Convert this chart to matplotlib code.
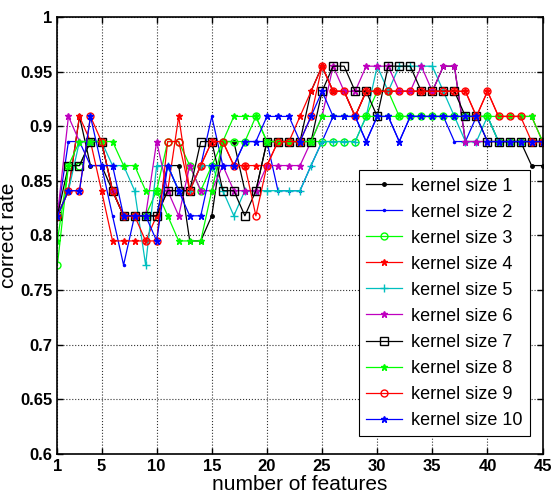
import matplotlib
matplotlib.use("Agg")
import matplotlib.pyplot as plt
import numpy as np

plt.rcParams['font.family'] = ['Liberation Sans', 'DejaVu Sans']

features = list(range(1, 46))

# correct rate per number of features, one list per kernel size
k1 = [0.818, 0.841, 0.909, 0.864, 0.864, 0.841, 0.818, 0.818, 0.818, 0.818, 0.864, 0.864, 0.795, 0.795, 0.818,
      0.886, 0.886, 0.841, 0.841, 0.886, 0.886, 0.886, 0.886, 0.932, 0.955, 0.932, 0.932, 0.909, 0.932, 0.932,
      0.932, 0.932, 0.932, 0.932, 0.932, 0.955, 0.955, 0.886, 0.886, 0.886, 0.886, 0.886, 0.886, 0.864, 0.864]
k2 = [0.818, 0.886, 0.886, 0.864, 0.864, 0.818, 0.773, 0.818, 0.818, 0.818, 0.864, 0.841, 0.841, 0.864, 0.909,
      0.864, 0.864, 0.886, 0.886, 0.886, 0.841, 0.841, 0.841, 0.864, 0.886, 0.909, 0.909, 0.909, 0.886, 0.909,
      0.909, 0.886, 0.909, 0.909, 0.909, 0.909, 0.886, 0.886, 0.909, 0.909, 0.886, 0.886, 0.886, 0.886, 0.886]
k3 = [0.773, 0.864, 0.864, 0.886, 0.886, 0.841, 0.818, 0.818, 0.818, 0.841, 0.886, 0.886, 0.864, 0.841, 0.864,
      0.886, 0.886, 0.886, 0.909, 0.886, 0.886, 0.886, 0.886, 0.886, 0.886, 0.886, 0.886, 0.886, 0.909, 0.932,
      0.932, 0.909, 0.909, 0.909, 0.909, 0.909, 0.909, 0.909, 0.909, 0.909, 0.886, 0.886, 0.886, 0.886, 0.886]
k4 = [0.818, 0.841, 0.909, 0.886, 0.841, 0.795, 0.795, 0.795, 0.795, 0.818, 0.841, 0.909, 0.841, 0.864, 0.886,
      0.886, 0.864, 0.864, 0.864, 0.864, 0.886, 0.886, 0.909, 0.932, 0.955, 0.932, 0.932, 0.909, 0.932, 0.932,
      0.932, 0.932, 0.932, 0.932, 0.932, 0.932, 0.932, 0.932, 0.909, 0.932, 0.909, 0.909, 0.909, 0.909, 0.886]
k5 = [0.818, 0.841, 0.886, 0.886, 0.886, 0.864, 0.864, 0.841, 0.773, 0.864, 0.864, 0.841, 0.841, 0.864, 0.864,
      0.841, 0.818, 0.841, 0.841, 0.841, 0.841, 0.841, 0.841, 0.864, 0.886, 0.886, 0.886, 0.886, 0.909, 0.955,
      0.932, 0.955, 0.955, 0.955, 0.955, 0.932, 0.909, 0.886, 0.886, 0.909, 0.886, 0.886, 0.886, 0.886, 0.886]
k6 = [0.818, 0.909, 0.886, 0.886, 0.886, 0.841, 0.818, 0.818, 0.818, 0.886, 0.841, 0.818, 0.864, 0.841, 0.841,
      0.864, 0.841, 0.841, 0.841, 0.864, 0.864, 0.864, 0.864, 0.886, 0.909, 0.955, 0.932, 0.932, 0.955, 0.955,
      0.955, 0.932, 0.932, 0.955, 0.932, 0.955, 0.955, 0.886, 0.886, 0.886, 0.886, 0.886, 0.886, 0.886, 0.886]
k7 = [0.818, 0.864, 0.864, 0.886, 0.886, 0.841, 0.818, 0.818, 0.818, 0.818, 0.841, 0.841, 0.841, 0.886, 0.886,
      0.841, 0.841, 0.818, 0.841, 0.886, 0.886, 0.886, 0.886, 0.886, 0.932, 0.955, 0.955, 0.932, 0.932, 0.909,
      0.955, 0.955, 0.955, 0.932, 0.932, 0.932, 0.932, 0.909, 0.909, 0.886, 0.886, 0.886, 0.886, 0.886, 0.886]
k8 = [0.795, 0.864, 0.886, 0.886, 0.886, 0.886, 0.864, 0.864, 0.841, 0.841, 0.818, 0.795, 0.795, 0.795, 0.841,
      0.886, 0.909, 0.909, 0.909, 0.886, 0.886, 0.886, 0.886, 0.886, 0.909, 0.909, 0.909, 0.909, 0.909, 0.909,
      0.909, 0.909, 0.909, 0.909, 0.909, 0.909, 0.909, 0.909, 0.909, 0.909, 0.909, 0.909, 0.909, 0.909, 0.886]
k9 = [0.818, 0.841, 0.841, 0.909, 0.886, 0.841, 0.818, 0.818, 0.795, 0.795, 0.886, 0.886, 0.841, 0.864, 0.886,
      0.886, 0.864, 0.864, 0.818, 0.864, 0.886, 0.886, 0.886, 0.909, 0.955, 0.932, 0.932, 0.909, 0.932, 0.932,
      0.932, 0.932, 0.932, 0.932, 0.932, 0.932, 0.932, 0.932, 0.909, 0.932, 0.909, 0.909, 0.909, 0.886, 0.886]
k10 = [0.818, 0.841, 0.841, 0.909, 0.864, 0.864, 0.818, 0.818, 0.818, 0.795, 0.864, 0.841, 0.818, 0.818, 0.864,
       0.864, 0.864, 0.886, 0.886, 0.909, 0.909, 0.909, 0.886, 0.909, 0.932, 0.909, 0.909, 0.909, 0.886, 0.909,
       0.909, 0.886, 0.909, 0.909, 0.909, 0.909, 0.909, 0.909, 0.909, 0.886, 0.886, 0.886, 0.886, 0.886, 0.886]

series = [k1, k2, k3, k4, k5, k6, k7, k8, k9, k10]
labels = ['kernel size %d' % i for i in range(1, 11)]
colors = ['k', 'b', '#00ff00', 'r', 'c', 'm', 'k', '#00ff00', 'r', 'b']
markers = ['.', '.', 'o', '*', '+', '*', 's', '*', 'o', '*']
msizes = [5, 3, 5, 5, 6, 5, 6, 5, 5, 5]

fig = plt.figure(figsize=(5.52, 5.01), dpi=100)
ax = fig.add_axes([0.104, 0.094, 0.879, 0.872])

for y, lab, c, m, ms in zip(series, labels, colors, markers, msizes):
    hollow = m in ('o', 's')
    ax.plot(features, y, color=c, marker=m, markersize=ms, linewidth=0.9,
            markerfacecolor='none' if hollow else c, markeredgecolor=c,
            markeredgewidth=1.0, label=lab)

ax.set_xlim(1, 45)
ax.set_ylim(0.6, 1.0)
ax.set_xticks([1, 5, 10, 15, 20, 25, 30, 35, 40, 45])
ax.set_yticks([0.6, 0.65, 0.7, 0.75, 0.8, 0.85, 0.9, 0.95, 1.0])
ax.set_yticklabels(['0.6', '0.65', '0.7', '0.75', '0.8', '0.85', '0.9', '0.95', '1'])
ax.grid(True, linestyle=':', color='#333333', linewidth=0.8)
ax.tick_params(direction='in', top=True, right=True, length=4, labelsize=12, width=1)
for t in ax.get_xticklabels() + ax.get_yticklabels():
    t.set_fontweight('bold')
for s in ax.spines.values():
    s.set_linewidth(1.2)

ax.set_xlabel('number of features', fontsize=15, labelpad=1)
ax.set_ylabel('correct rate', fontsize=15, labelpad=2)

leg = ax.legend(loc='lower right', bbox_to_anchor=(0.992, 0.02), fontsize=13,
                fancybox=False, edgecolor='k', framealpha=1, handlelength=2.0,
                labelspacing=0.5, borderpad=0.4, handletextpad=0.5)
leg.get_frame().set_linewidth(0.8)

fig.savefig('out.png', dpi=100)
